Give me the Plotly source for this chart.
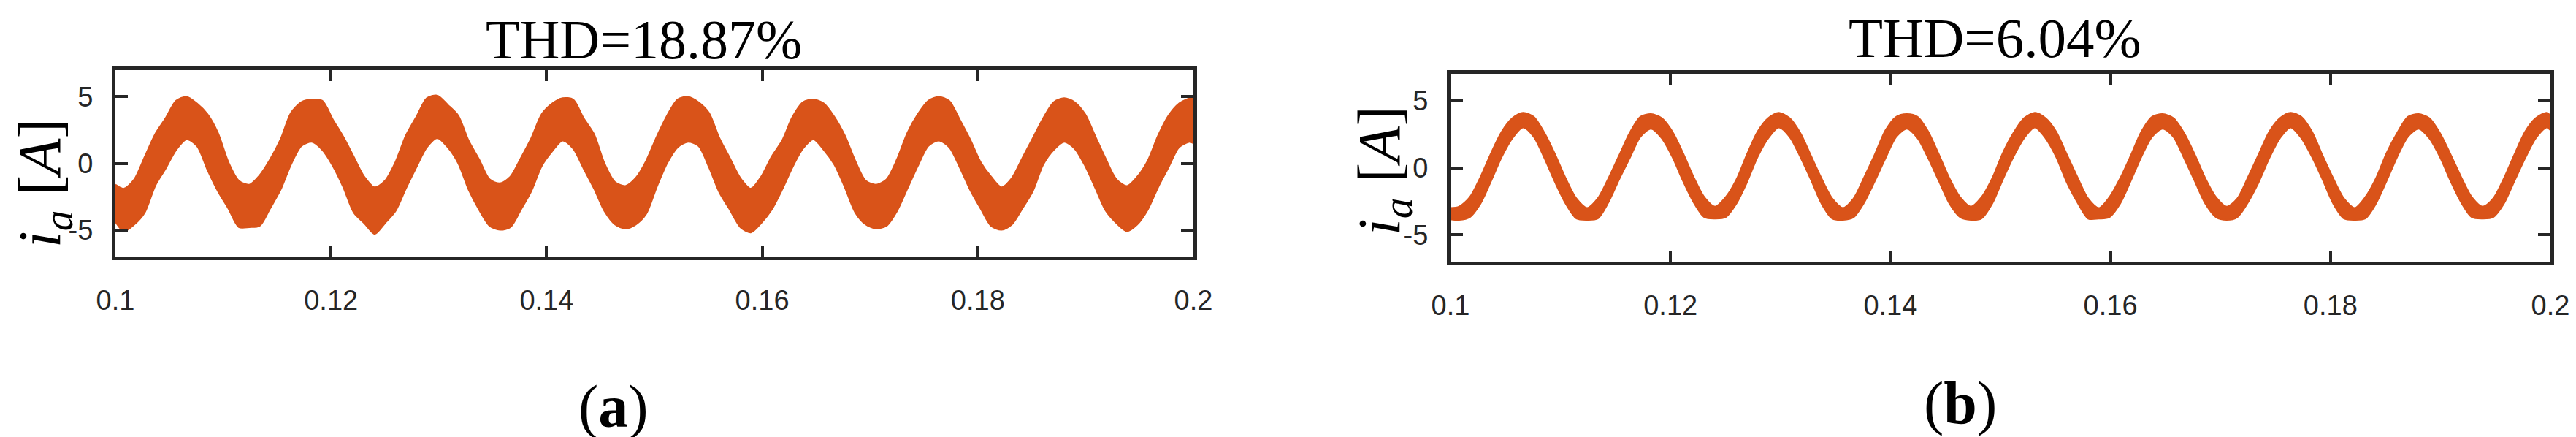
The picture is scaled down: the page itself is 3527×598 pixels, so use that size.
import plotly.graph_objects as go

NARANJA = '#D95319'
GRIS = '#262626'

t = [
    0.1,
    0.10079, 0.10175, 0.10272, 0.10369, 0.10466, 0.10563, 0.10660, 0.10757, 0.10854, 0.10951, 0.11048, 0.11145,
    0.11242, 0.11338, 0.11435, 0.11532, 0.11629, 0.11726, 0.11823, 0.11920, 0.12017, 0.12114, 0.12211, 0.12308,
    0.12405, 0.12501, 0.12598, 0.12695, 0.12792, 0.12889, 0.12986, 0.13083, 0.13180, 0.13277, 0.13374, 0.13471,
    0.13568, 0.13664, 0.13761, 0.13858, 0.13955, 0.14052, 0.14149, 0.14246, 0.14343, 0.14440, 0.14537, 0.14634,
    0.14731, 0.14827, 0.14924, 0.15021, 0.15118, 0.15215, 0.15312, 0.15409, 0.15506, 0.15603, 0.15700, 0.15797,
    0.15894, 0.15990, 0.16087, 0.16184, 0.16281, 0.16378, 0.16475, 0.16572, 0.16669, 0.16766, 0.16863, 0.16960,
    0.17057, 0.17153, 0.17250, 0.17347, 0.17444, 0.17541, 0.17638, 0.17735, 0.17832, 0.17929, 0.18026, 0.18123,
    0.18220, 0.18316, 0.18413, 0.18510, 0.18607, 0.18704, 0.18801, 0.18898, 0.18995, 0.19092, 0.19189, 0.19286,
    0.19383, 0.19479, 0.19576, 0.19673, 0.19770, 0.19867, 0.19964,
    0.2,
]

# (a) THD=18.87%: upper / lower edge of the noisy current band [A]
ia_sup_a = [
    -1.6,
    -1.9, -1.2, 0.5, 2.2, 3.4, 4.7, 5.0, 4.5, 3.7, 2.3, 0.1, -1.3,
    -1.6, -0.9, 0.3, 1.8, 3.8, 4.6, 4.8, 4.7, 3.3, 2.0, 0.5, -1.0,
    -1.8, -1.3, 0.1, 2.1, 3.5, 4.9, 5.1, 4.4, 3.6, 1.7, 0.3, -1.2,
    -1.5, -1.0, 0.4, 1.9, 3.7, 4.5, 4.9, 4.8, 3.4, 2.2, 0.0, -1.4,
    -1.7, -1.1, 0.2, 2.0, 3.6, 4.8, 5.0, 4.6, 3.8, 1.9, 0.4, -1.1,
    -1.9, -1.0, 0.5, 1.7, 3.5, 4.6, 4.8, 4.5, 3.5, 2.1, 0.2, -1.3,
    -1.6, -1.2, 0.3, 2.3, 3.7, 4.7, 5.0, 4.7, 3.3, 1.8, 0.1, -1.0,
    -1.8, -1.1, 0.4, 1.9, 3.4, 4.6, 4.9, 4.6, 3.7, 2.0, 0.3, -1.2,
    -1.7, -1.0, 0.2, 2.1, 3.6, 4.5, 4.9,
    5.0,
]
ia_inf_a = [
    -4.4,
    -5.1, -4.6, -3.7, -1.7, -0.4, 1.0, 1.8, 1.3, -0.5, -2.1, -3.4, -4.8,
    -4.8, -4.7, -3.4, -2.0, -0.1, 1.3, 1.6, 1.0, -0.2, -1.8, -3.7, -4.5,
    -5.3, -4.5, -3.6, -1.9, -0.3, 1.2, 1.9, 1.2, 0.0, -2.0, -3.5, -4.7,
    -5.0, -4.8, -3.5, -2.1, -0.2, 0.9, 1.7, 1.1, -0.4, -1.9, -3.6, -4.6,
    -4.9, -4.6, -3.8, -1.8, 0.0, 1.2, 1.6, 1.3, -0.3, -2.2, -3.5, -4.8,
    -5.2, -4.5, -3.5, -2.0, -0.3, 1.1, 1.8, 1.0, -0.1, -1.8, -3.7, -4.6,
    -4.9, -4.7, -3.6, -1.9, -0.2, 1.3, 1.7, 1.2, -0.3, -2.0, -3.4, -4.7,
    -5.0, -4.6, -3.4, -2.1, -0.1, 1.0, 1.6, 1.1, -0.2, -1.9, -3.6, -4.5,
    -5.1, -4.6, -3.5, -1.8, -0.3, 1.2, 1.6,
    1.5,
]

# (b) THD=6.04%
ia_sup_b = [
    -3.0,
    -2.9, -2.2, -0.7, 1.1, 2.7, 3.7, 4.1, 3.8, 2.6, 1.0, -0.8, -2.3,
    -3.0, -2.3, -0.8, 0.9, 2.6, 3.8, 4.0, 3.7, 2.7, 1.1, -0.7, -2.2,
    -2.9, -2.2, -0.9, 1.0, 2.7, 3.7, 4.1, 3.7, 2.6, 0.9, -0.8, -2.3,
    -3.0, -2.3, -0.7, 1.0, 2.8, 3.8, 4.0, 3.8, 2.7, 1.0, -0.8, -2.2,
    -2.9, -2.2, -0.8, 1.1, 2.6, 3.7, 4.1, 3.7, 2.7, 1.0, -0.7, -2.3,
    -3.0, -2.2, -0.8, 0.9, 2.7, 3.8, 4.0, 3.7, 2.6, 1.0, -0.8, -2.2,
    -2.9, -2.3, -0.7, 1.0, 2.7, 3.7, 4.1, 3.8, 2.7, 0.9, -0.8, -2.3,
    -3.0, -2.2, -0.8, 1.1, 2.6, 3.8, 4.0, 3.7, 2.6, 1.0, -0.7, -2.2,
    -2.9, -2.3, -0.8, 1.0, 2.7, 3.7, 4.1,
    3.9,
]
ia_inf_b = [
    -3.85,
    -3.9, -3.7, -2.7, -1.0, 0.8, 2.2, 3.0, 2.3, 0.7, -1.1, -2.7, -3.8,
    -3.9, -3.8, -2.6, -0.9, 0.7, 2.3, 2.9, 2.2, 0.8, -1.0, -2.6, -3.7,
    -3.8, -3.7, -2.7, -1.1, 0.8, 2.2, 3.0, 2.3, 0.8, -0.9, -2.7, -3.8,
    -3.9, -3.7, -2.6, -1.0, 0.7, 2.3, 2.9, 2.2, 0.7, -1.0, -2.7, -3.7,
    -3.9, -3.8, -2.7, -0.9, 0.8, 2.2, 3.0, 2.2, 0.8, -1.1, -2.6, -3.8,
    -3.8, -3.7, -2.7, -1.0, 0.8, 2.3, 2.9, 2.3, 0.7, -1.0, -2.7, -3.7,
    -3.9, -3.7, -2.6, -1.1, 0.7, 2.2, 3.0, 2.2, 0.8, -0.9, -2.7, -3.8,
    -3.9, -3.8, -2.7, -1.0, 0.8, 2.3, 2.9, 2.2, 0.8, -1.0, -2.6, -3.7,
    -3.8, -3.7, -2.7, -1.0, 0.7, 2.2, 3.0,
    2.8,
]

x_ticks = [0.1, 0.12, 0.14, 0.16, 0.18, 0.2]
x_ticktext = ['0.1', '0.12', '0.14', '0.16', '0.18', '0.2']
y_ticks = [-5, 0, 5]
y_ticktext = ['-5', '0', '5']

titulos = ['THD=18.87%', 'THD=6.04%']
etiquetas = ['(<b>a</b>)', '(<b>b</b>)']

W, H = 3527, 598


def px_x(v):
    return v / W


def px_y(v):
    return 1 - v / H


def eje_x(dominio, ancla):
    return dict(
        domain=dominio, anchor=ancla, range=[0.1, 0.2],
        tickmode='array', tickvals=x_ticks, ticktext=x_ticktext,
        ticks='inside', ticklen=15, tickwidth=4, tickcolor=GRIS,
        showline=True, linewidth=5, linecolor=GRIS, mirror='allticks',
        showgrid=False, zeroline=False, automargin=False,
        tickfont=dict(family='Liberation Sans', size=38, color=GRIS),
        ticklabelstandoff=22,
    )


def eje_y(dominio, ancla):
    return dict(
        domain=dominio, anchor=ancla, range=[-7, 7],
        tickmode='array', tickvals=y_ticks, ticktext=y_ticktext,
        ticks='inside', ticklen=17, tickwidth=4, tickcolor=GRIS,
        showline=True, linewidth=5, linecolor=GRIS, mirror='allticks',
        showgrid=False, zeroline=False, automargin=False,
        tickfont=dict(family='Liberation Sans', size=38, color=GRIS),
        ticklabelstandoff=18,
    )


fig = go.Figure()

paneles = [
    (ia_sup_a, ia_inf_a, 'x', 'y'),
    (ia_sup_b, ia_inf_b, 'x2', 'y2'),
]
for sup, inf, xa, ya in paneles:
    fig.add_trace(go.Scatter(
        x=t, y=sup, mode='lines', xaxis=xa, yaxis=ya,
        line=dict(color=NARANJA, width=2, shape='spline', smoothing=0.8),
        showlegend=False, hoverinfo='skip'
    ))
    fig.add_trace(go.Scatter(
        x=t, y=inf, mode='lines', xaxis=xa, yaxis=ya, fill='tonexty',
        fillcolor=NARANJA,
        line=dict(color=NARANJA, width=2, shape='spline', smoothing=0.8),
        showlegend=False, hoverinfo='skip'
    ))

fig.update_layout(
    width=W, height=H, autosize=False,
    margin=dict(l=0, r=0, t=0, b=0),
    paper_bgcolor='white', plot_bgcolor='white',
    xaxis=eje_x([px_x(150), px_x(1626)], 'y'),
    yaxis=eje_y([px_y(343), px_y(88)], 'x'),
    xaxis2=eje_x([px_x(1978), px_x(3484)], 'y2'),
    yaxis2=eje_y([px_y(350), px_y(93)], 'x2'),
)

serif = 'Liberation Serif'
anotaciones = [
    # titles (box top kept inside the page)
    dict(text=titulos[0], x=px_x(873), y=px_y(3), size=76),
    dict(text=titulos[1], x=px_x(2723), y=px_y(0), size=77),
]
for a in anotaciones:
    fig.add_annotation(
        text=a['text'], x=a['x'], y=a['y'], xref='paper', yref='paper',
        xanchor='center', yanchor='top', showarrow=False, borderpad=0,
        font=dict(family=serif, size=a['size'], color='black')
    )

# panel letters
for txt, xc, yc in [(etiquetas[0], 832, 548), (etiquetas[1], 2676, 543)]:
    fig.add_annotation(
        text=txt, x=px_x(xc), y=px_y(yc), xref='paper', yref='paper',
        xanchor='center', yanchor='middle', showarrow=False,
        font=dict(family=serif, size=82, color='black')
    )

# y-axis labels i_a [A]
for xc, yc in [(52, 243), (1886, 226)]:
    fig.add_annotation(
        text='<i>i</i><sub><i>a</i></sub> [<i>A</i>]',
        x=px_x(xc), y=px_y(yc), xref='paper', yref='paper',
        xanchor='center', yanchor='middle', textangle=-90, showarrow=False,
        font=dict(family=serif, size=82, color='black')
    )

fig.write_html('out.html')
